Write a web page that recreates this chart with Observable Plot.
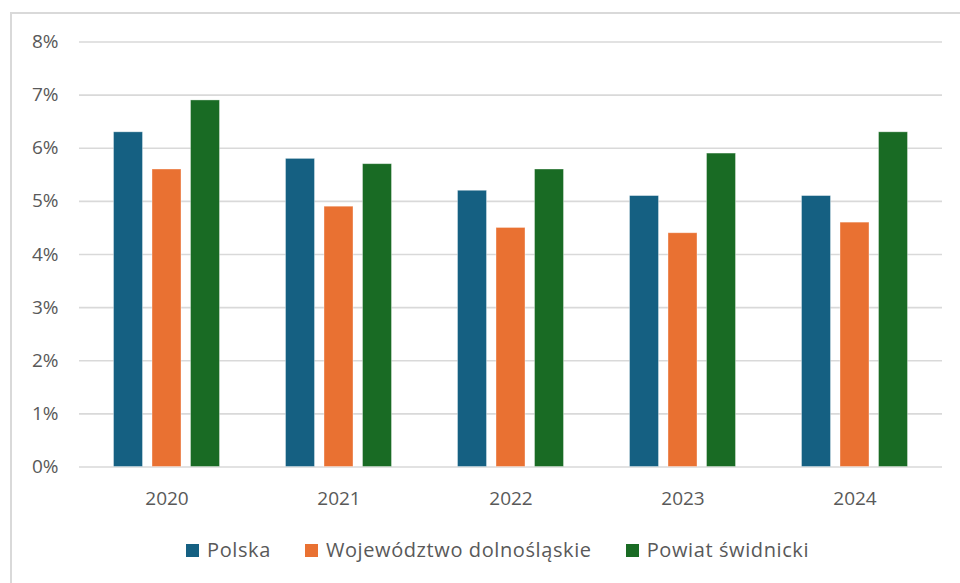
<!DOCTYPE html>
<html>
<head>
<meta charset="utf-8">
<script src="https://cdn.jsdelivr.net/npm/d3@7"></script>
<script src="https://cdn.jsdelivr.net/npm/@observablehq/plot@0.6"></script>
<style>
  html, body { margin: 0; padding: 0; background: #fff; overflow: hidden; }
  body { position: relative; width: 960px; height: 583px; font-family: "Open Sans", sans-serif; }
  #frame { position: absolute; left: 10px; top: 12px; width: 1000px; height: 700px; border: 2px solid #d9d9d9; box-sizing: border-box; }
  #chart { position: absolute; left: 0; top: 0; }
  #legend { position: absolute; left: 186px; top: 536px; display: flex; gap: 34px; font-size: 20px; letter-spacing: 0.6px; color: #595959; line-height: 28px; white-space: nowrap; }
  .item { display: flex; align-items: center; gap: 8px; }
  .sw { width: 13px; height: 13px; display: inline-block; }
</style>
</head>
<body>
<div id="frame"></div>
<div id="chart"></div>
<div id="legend"></div>
<script>
const years = ["2020", "2021", "2022", "2023", "2024"];
const series = ["Polska", "Województwo dolnośląskie", "Powiat świdnicki"];
const colors = ["#156082", "#E97132", "#196B24"];
const polska = [6.3, 5.8, 5.2, 5.1, 5.1];
const dolnoslaskie = [5.6, 4.9, 4.5, 4.4, 4.6];
const swidnicki = [6.9, 5.7, 5.6, 5.9, 6.3];
const yTicks = [0, 1, 2, 3, 4, 5, 6, 7, 8];

const valuesBySeries = [polska, dolnoslaskie, swidnicki];
const data = [];
series.forEach((s, i) => years.forEach((y, j) => data.push({year: y, series: s, value: valuesBySeries[i][j]})));

const chart = Plot.plot({
  width: 960,
  height: 520,
  marginTop: 41.5,
  marginBottom: 53.5,
  marginLeft: 79,
  marginRight: 18,
  style: {fontFamily: "Open Sans", fontSize: "19px", color: "#595959", background: "transparent", overflow: "visible"},
  x: {domain: years, paddingInner: 0.832, paddingOuter: 0.416, label: null, tickSize: 0, tickPadding: 24},
  y: {domain: [0, 8], ticks: 8, label: null, tickSize: 0, tickPadding: 21, tickFormat: d => d + "%"},
  color: {domain: series, range: colors},
  marks: [
    Plot.ruleY(yTicks, {stroke: "#d9d9d9", strokeWidth: 1.6}),
    ...series.map((s, i) => Plot.barY(data.filter(d => d.series === s), {
      x: "year", y: "value", fill: "series", dx: (i - 1) * 38.5,
      stroke: "#ffffff", strokeOpacity: 0.45, strokeWidth: 0.8
    }))
  ]
});
document.getElementById("chart").appendChild(chart);

const legend = document.getElementById("legend");
series.forEach((s, i) => {
  const item = document.createElement("div");
  item.className = "item";
  const sw = document.createElement("span");
  sw.className = "sw";
  sw.style.background = colors[i];
  const label = document.createElement("span");
  label.textContent = s;
  item.appendChild(sw);
  item.appendChild(label);
  legend.appendChild(item);
});
</script>
</body>
</html>
